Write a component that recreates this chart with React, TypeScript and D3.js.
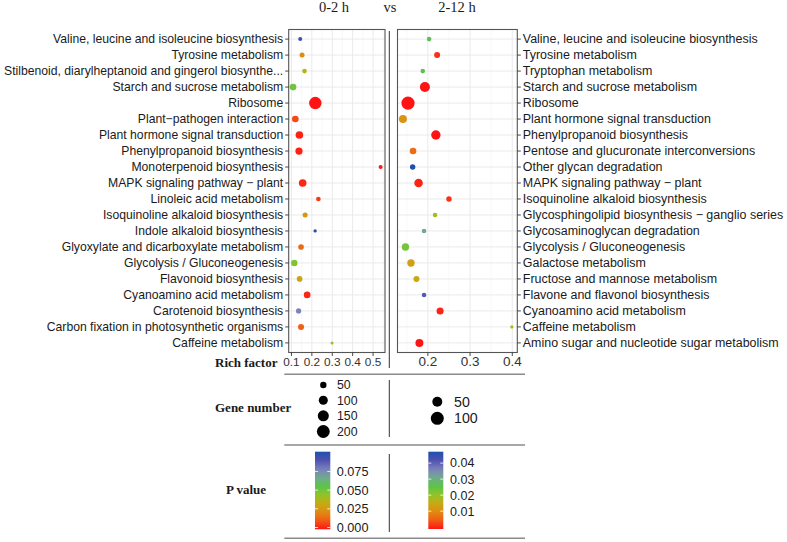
import React from "react";
import * as d3 from "d3";

// ---------- data ----------
const leftCategories = [
  "Valine, leucine and isoleucine biosynthesis",
  "Tyrosine metabolism",
  "Stilbenoid, diarylheptanoid and gingerol biosynthe...",
  "Starch and sucrose metabolism",
  "Ribosome",
  "Plant\u2212pathogen interaction",
  "Plant hormone signal transduction",
  "Phenylpropanoid biosynthesis",
  "Monoterpenoid biosynthesis",
  "MAPK signaling pathway \u2212 plant",
  "Linoleic acid metabolism",
  "Isoquinoline alkaloid biosynthesis",
  "Indole alkaloid biosynthesis",
  "Glyoxylate and dicarboxylate metabolism",
  "Glycolysis / Gluconeogenesis",
  "Flavonoid biosynthesis",
  "Cyanoamino acid metabolism",
  "Carotenoid biosynthesis",
  "Carbon fixation in photosynthetic organisms",
  "Caffeine metabolism",
];
const leftRichFactor = [0.143, 0.152, 0.164, 0.108, 0.217, 0.119, 0.139, 0.137, 0.537, 0.155, 0.232, 0.167, 0.216, 0.147, 0.114, 0.14, 0.177, 0.135, 0.147, 0.299];
const leftGeneNumber = [20, 31, 26, 54, 190, 54, 71, 64, 20, 71, 26, 31, 13, 39, 51, 39, 54, 33, 44, 11];
const leftPValue = [0.093, 0.022, 0.037, 0.05, 0.0, 0.008, 0.002, 0.002, 0.001, 0.003, 0.006, 0.025, 0.099, 0.014, 0.047, 0.031, 0.003, 0.076, 0.012, 0.04];

const rightCategories = [
  "Valine, leucine and isoleucine biosynthesis",
  "Tyrosine metabolism",
  "Tryptophan metabolism",
  "Starch and sucrose metabolism",
  "Ribosome",
  "Plant hormone signal transduction",
  "Phenylpropanoid biosynthesis",
  "Pentose and glucuronate interconversions",
  "Other glycan degradation",
  "MAPK signaling pathway \u2212 plant",
  "Isoquinoline alkaloid biosynthesis",
  "Glycosphingolipid biosynthesis \u2212 ganglio series",
  "Glycosaminoglycan degradation",
  "Glycolysis / Gluconeogenesis",
  "Galactose metabolism",
  "Fructose and mannose metabolism",
  "Flavone and flavonol biosynthesis",
  "Cyanoamino acid metabolism",
  "Caffeine metabolism",
  "Amino sugar and nucleotide sugar metabolism",
];
const rightRichFactor = [0.203, 0.222, 0.188, 0.193, 0.153, 0.141, 0.219, 0.165, 0.164, 0.178, 0.25, 0.217, 0.191, 0.147, 0.16, 0.173, 0.191, 0.229, 0.399, 0.18];
const rightGeneNumber = [6, 12, 6, 51, 105, 27, 43, 16, 9, 33, 9, 6, 6, 22, 22, 12, 6, 19, 4, 27];
const rightPValue = [0.027, 0.002, 0.026, 0.0, 0.0, 0.0115, 0.0, 0.007, 0.046, 0.001, 0.002, 0.019, 0.031, 0.023, 0.014, 0.015, 0.04, 0.001, 0.019, 0.0];

const leftXTicks = [0.1, 0.2, 0.3, 0.4, 0.5];
const leftXMinor = [0.15, 0.25, 0.35, 0.45, 0.55];
const rightXTicks = [0.2, 0.3, 0.4];
const rightXMinor = [0.15, 0.25, 0.35];
const leftSizeBreaks = [50, 100, 150, 200];
const rightSizeBreaks = [50, 100];
const leftPBreaks = [0, 0.025, 0.05, 0.075];
const rightPBreaks = [0.01, 0.02, 0.03, 0.04];
const leftPLabels = ["0.000", "0.025", "0.050", "0.075"];
const rightPLabels = ["0.01", "0.02", "0.03", "0.04"];
const paletteColors = ["#ff1414", "#f25a14", "#e08c10", "#c8aa14", "#90c428", "#5ac34a", "#72aa90", "#7a80bc", "#5050b0", "#1e50ac"];

const SANS = "'Liberation Sans', Arial, Helvetica, sans-serif";
const SERIF = "'Liberation Serif', 'Times New Roman', serif";

const W = 787;
const H = 542;
const PANEL_TOP = 29.5;
const PANEL_BOTTOM = 352.5;

function makeColor(pv: number[]) {
  const [lo, hi] = d3.extent(pv) as [number, number];
  const n = paletteColors.length;
  return {
    lo,
    hi,
    scale: d3
      .scaleLinear<string>()
      .domain(paletteColors.map((_, i) => lo + ((hi - lo) * i) / (n - 1)))
      .range(paletteColors)
      .interpolate(d3.interpolateRgb)
      .clamp(true),
  };
}

function expandDomain(vals: number[]): [number, number] {
  const [a, b] = d3.extent(vals) as [number, number];
  const w = b - a;
  return [a - 0.05 * w, b + 0.05 * w];
}

type PanelProps = {
  cats: string[];
  rf: number[];
  gn: number[];
  pv: number[];
  x0: number;
  x1: number;
  ticks: number[];
  minor: number[];
  tickFont: number;
  labelFont: number;
  side: "left" | "right";
  rScale: (n: number) => number;
  color: (p: number) => string;
};

function Panel(p: PanelProps) {
  const x = d3.scaleLinear().domain(expandDomain(p.rf)).range([p.x0, p.x1]);
  const y = d3.scalePoint<string>().domain(p.cats).range([PANEL_TOP, PANEL_BOTTOM]).padding(0.6);
  const idx = d3.range(p.cats.length);
  return (
    <g>
      <rect x={p.x0} y={PANEL_TOP} width={p.x1 - p.x0} height={PANEL_BOTTOM - PANEL_TOP} fill="#fff" />
      {p.minor.filter((v) => x(v) > p.x0 && x(v) < p.x1).map((v) => (
        <line key={"mn" + v} x1={x(v)} x2={x(v)} y1={PANEL_TOP} y2={PANEL_BOTTOM} stroke="#f3f3f3" strokeWidth={0.6} />
      ))}
      {p.ticks.map((v) => (
        <line key={"mj" + v} x1={x(v)} x2={x(v)} y1={PANEL_TOP} y2={PANEL_BOTTOM} stroke="#e8e8e8" strokeWidth={0.9} />
      ))}
      {p.cats.map((c) => (
        <line key={"hy" + c} x1={p.x0} x2={p.x1} y1={y(c)!} y2={y(c)!} stroke="#e8e8e8" strokeWidth={0.9} />
      ))}
      {idx.map((i) => (
        <circle key={"pt" + i} cx={x(p.rf[i])} cy={y(p.cats[i])!} r={p.rScale(p.gn[i])} fill={p.color(p.pv[i])} />
      ))}
      <rect x={p.x0} y={PANEL_TOP} width={p.x1 - p.x0} height={PANEL_BOTTOM - PANEL_TOP} fill="none" stroke="#555" strokeWidth={1.1} />
      {p.cats.map((c) => {
        const yy = y(c)!;
        const tx = p.side === "left" ? p.x0 : p.x1;
        const dir = p.side === "left" ? -1 : 1;
        return (
          <g key={"lb" + c}>
            <line x1={tx} x2={tx + dir * 3.5} y1={yy} y2={yy} stroke="#333" strokeWidth={0.9} />
            <text
              x={tx + dir * 5.5}
              y={yy}
              dy="0.35em"
              textAnchor={p.side === "left" ? "end" : "start"}
              fontFamily={SANS}
              fontSize={p.labelFont}
              fill="#1a1a1a"
            >
              {c}
            </text>
          </g>
        );
      })}
      {p.ticks.map((v) => (
        <g key={"xt" + v}>
          <line x1={x(v)} x2={x(v)} y1={PANEL_BOTTOM} y2={PANEL_BOTTOM + 3.5} stroke="#333" strokeWidth={0.9} />
          <text x={x(v)} y={361.5} dy="0.35em" textAnchor="middle" fontFamily={SANS} fontSize={p.tickFont} fill="#333">
            {d3.format(".1f")(v)}
          </text>
        </g>
      ))}
    </g>
  );
}

function ColorBar(props: {
  id: string;
  x: number;
  w: number;
  top: number;
  bottom: number;
  lo: number;
  hi: number;
  color: (p: number) => string;
  breaks: number[];
  labels: string[];
  labelX: number;
  fontSize: number;
}) {
  const s = d3.scaleLinear().domain([props.lo, props.hi]).range([props.bottom - 1.8, props.top + 1.8]);
  const stops = d3.range(0, 21).map((i) => props.lo + ((props.hi - props.lo) * i) / 20);
  return (
    <g>
      <defs>
        <linearGradient id={props.id} x1="0" y1="1" x2="0" y2="0">
          {stops.map((v, i) => (
            <stop key={i} offset={`${(i / 20) * 100}%`} stopColor={props.color(v)} />
          ))}
        </linearGradient>
      </defs>
      <rect x={props.x} y={props.top} width={props.w} height={props.bottom - props.top} fill={`url(#${props.id})`} />
      {props.breaks.map((b, i) => (
        <g key={i}>
          <line x1={props.x} x2={props.x + props.w / 5} y1={s(b)} y2={s(b)} stroke="#fff" strokeWidth={0.8} />
          <line x1={props.x + props.w} x2={props.x + (props.w * 4) / 5} y1={s(b)} y2={s(b)} stroke="#fff" strokeWidth={0.8} />
          <text x={props.labelX} y={s(b)} dy="0.35em" fontFamily={SANS} fontSize={props.fontSize} fill="#1a1a1a">
            {props.labels[i]}
          </text>
        </g>
      ))}
    </g>
  );
}

export default function App() {
  const leftColor = makeColor(leftPValue);
  const rightColor = makeColor(rightPValue);

  const leftR = d3.scaleSqrt().domain([0, 200]).range([0, 6.4]);
  const [rMin, rMax] = d3.extent(rightGeneNumber) as [number, number];
  const rightSize = d3.scaleLinear().domain([0, 1]).range([1.6, 6.6]);
  const rightR = (n: number) => rightSize(Math.sqrt(Math.max(0, (n - rMin) / (rMax - rMin))));

  const legendLeftY = [385, 400.3, 415.8, 431.5];
  const legendRightY = [401.7, 418.3];

  return (
    <svg
      width={W}
      height={H}
      viewBox={`0 0 ${W} ${H}`}
      style={{ position: "absolute", left: 0, top: 0, background: "#fff" }}
    >
      <rect x={0} y={0} width={W} height={H} fill="#fff" />
      {/* titles */}
      <text x={334} y={11.5} textAnchor="middle" fontFamily={SERIF} fontSize={14.5} fill="#1a1a1a">0-2 h</text>
      <text x={390} y={11.5} textAnchor="middle" fontFamily={SERIF} fontSize={14.5} fill="#1a1a1a">vs</text>
      <text x={457} y={11.5} textAnchor="middle" fontFamily={SERIF} fontSize={14.5} fill="#1a1a1a">2-12 h</text>

      <Panel
        cats={leftCategories}
        rf={leftRichFactor}
        gn={leftGeneNumber}
        pv={leftPValue}
        x0={288.7}
        x1={385}
        ticks={leftXTicks}
        minor={leftXMinor}
        tickFont={11.8}
        labelFont={12.2}
        side="left"
        rScale={(n) => leftR(n)}
        color={leftColor.scale}
      />
      <Panel
        cats={rightCategories}
        rf={rightRichFactor}
        gn={rightGeneNumber}
        pv={rightPValue}
        x0={397.5}
        x1={517.3}
        ticks={rightXTicks}
        minor={rightXMinor}
        tickFont={13.5}
        labelFont={12.45}
        side="right"
        rScale={rightR}
        color={rightColor.scale}
      />

      {/* separators */}
      <line x1={389.3} x2={389.3} y1={31} y2={368} stroke="#333" strokeWidth={1} />
      <line x1={389.3} x2={389.3} y1={380} y2={437} stroke="#333" strokeWidth={1} />
      <line x1={389.3} x2={389.3} y1={454} y2={532} stroke="#333" strokeWidth={1} />
      <line x1={284.3} x2={525} y1={374.3} y2={374.3} stroke="#8a8a8a" strokeWidth={1.4} />
      <line x1={284.3} x2={525} y1={445} y2={445} stroke="#8a8a8a" strokeWidth={1.4} />
      <line x1={284.3} x2={525} y1={538.3} y2={538.3} stroke="#8a8a8a" strokeWidth={1.4} />

      {/* row titles */}
      <text x={215} y={362} dy="0.35em" fontFamily={SERIF} fontWeight="bold" fontSize={13} fill="#1a1a1a">Rich factor</text>
      <text x={215} y={407.3} dy="0.35em" fontFamily={SERIF} fontWeight="bold" fontSize={13} fill="#1a1a1a">Gene number</text>
      <text x={226} y={489.3} dy="0.35em" fontFamily={SERIF} fontWeight="bold" fontSize={13} fill="#1a1a1a">P value</text>

      {/* size legends */}
      {leftSizeBreaks.map((b, i) => (
        <g key={"ls" + b}>
          <circle cx={323.3} cy={legendLeftY[i]} r={leftR(b)} fill="#000" />
          <text x={337} y={legendLeftY[i]} dy="0.35em" fontFamily={SANS} fontSize={12.3} fill="#1a1a1a">{b}</text>
        </g>
      ))}
      {rightSizeBreaks.map((b, i) => (
        <g key={"rs" + b}>
          <circle cx={437.3} cy={legendRightY[i]} r={rightR(b)} fill="#000" />
          <text x={454} y={legendRightY[i]} dy="0.35em" fontFamily={SANS} fontSize={14.2} fill="#1a1a1a">{b}</text>
        </g>
      ))}

      {/* colour bars */}
      <ColorBar
        id="cbL"
        x={315}
        w={15.3}
        top={451.7}
        bottom={529.3}
        lo={leftColor.lo}
        hi={leftColor.hi}
        color={leftColor.scale}
        breaks={leftPBreaks}
        labels={leftPLabels}
        labelX={336.7}
        fontSize={12.7}
      />
      <ColorBar
        id="cbR"
        x={428.3}
        w={15}
        top={451.7}
        bottom={529}
        lo={rightColor.lo}
        hi={rightColor.hi}
        color={rightColor.scale}
        breaks={rightPBreaks}
        labels={rightPLabels}
        labelX={450}
        fontSize={12.5}
      />
    </svg>
  );
}
